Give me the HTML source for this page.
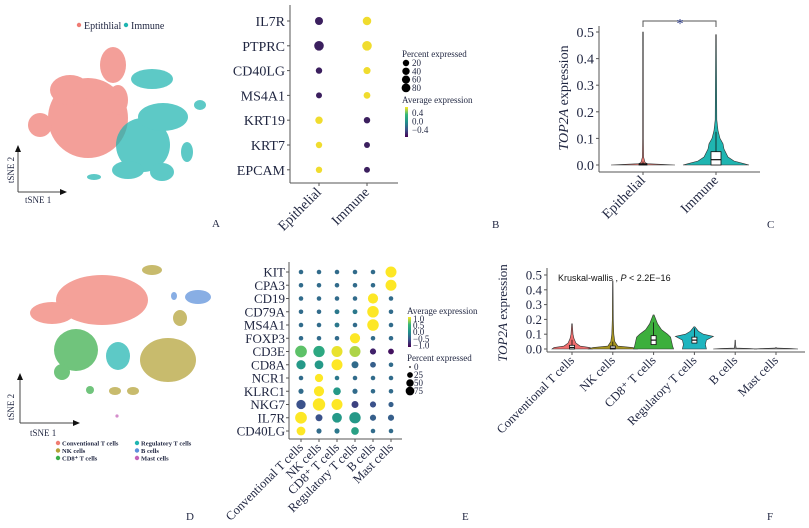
<!DOCTYPE html>
<html><head><meta charset="utf-8">
<style>
html,body{margin:0;padding:0;background:#fff;}
svg{display:block;font-family:"Liberation Serif",serif;}
.t{fill:#1f2540;}
</style></head>
<body>
<svg id="fig" width="809" height="528" viewBox="0 0 809 528">
<!-- Panel A -->
<g>
  <circle cx="79" cy="25" r="2.2" fill="#ef7b73"/>
  <text x="84" y="29" font-size="10" class="t">Eptithlial</text>
  <circle cx="126" cy="25" r="2.2" fill="#1fb5b1"/>
  <text x="131" y="29" font-size="10" class="t">Immune</text>
  <g fill="#ef7b73" opacity="0.72">
    <ellipse cx="88" cy="118" rx="40" ry="40"/>
    <ellipse cx="113" cy="65" rx="13" ry="18"/>
    <ellipse cx="40" cy="125" rx="12" ry="12"/>
    <ellipse cx="118" cy="100" rx="10" ry="15"/>
    <ellipse cx="70" cy="90" rx="20" ry="15"/>
  </g>
  <g fill="#1fb5b1" opacity="0.72">
    <ellipse cx="152" cy="79" rx="21" ry="10"/>
    <ellipse cx="143" cy="145" rx="27" ry="27"/>
    <ellipse cx="163" cy="117" rx="25" ry="14"/>
    <ellipse cx="128" cy="170" rx="16" ry="9"/>
    <ellipse cx="187" cy="152" rx="6" ry="10"/>
    <ellipse cx="200" cy="105" rx="6" ry="5"/>
    <ellipse cx="162" cy="172" rx="12" ry="9"/>
    <ellipse cx="94" cy="177" rx="7" ry="3"/>
  </g>
  <line x1="18" y1="192" x2="18" y2="150" stroke="#444" stroke-width="1"/>
  <polygon points="18,145 15,152 21,152" fill="#111"/>
  <line x1="18" y1="192" x2="62" y2="192" stroke="#444" stroke-width="1"/>
  <polygon points="67,192 60,189 60,195" fill="#111"/>
  <text x="14" y="170" font-size="9" class="t" transform="rotate(-90 14 170)" text-anchor="middle">tSNE 2</text>
  <text x="25" y="203" font-size="9" class="t">tSNE 1</text>
  <text x="212" y="227" font-size="11" class="t">A</text>
</g>

<g id="panelB"></g>
<g id="panelC"></g>

<!-- Panel D -->
<g>
  <g opacity="0.72">
    <g fill="#f07d72">
      <ellipse cx="102" cy="300" rx="46" ry="25"/>
      <ellipse cx="52" cy="313" rx="22" ry="11"/>
    </g>
    <g fill="#3aae4a">
      <ellipse cx="76" cy="350" rx="22" ry="21"/>
      <ellipse cx="62" cy="372" rx="8" ry="8"/>
      <ellipse cx="90" cy="390" rx="4" ry="4"/>
    </g>
    <ellipse cx="118" cy="356" rx="12" ry="14" fill="#1fb5b1"/>
    <g fill="#b3a135">
      <ellipse cx="168" cy="360" rx="28" ry="22"/>
      <ellipse cx="152" cy="270" rx="10" ry="5"/>
      <ellipse cx="180" cy="318" rx="7" ry="8"/>
      <ellipse cx="115" cy="391" rx="6" ry="4"/>
      <ellipse cx="133" cy="391" rx="6" ry="4"/>
    </g>
    <g fill="#5b8fdb">
      <ellipse cx="198" cy="297" rx="13" ry="7"/>
      <ellipse cx="174" cy="296" rx="3" ry="4"/>
    </g>
    <circle cx="117" cy="416" r="1.6" fill="#c462b8"/>
  </g>
  <line x1="20" y1="423" x2="20" y2="378" stroke="#444"/>
  <polygon points="20,373 17,380 23,380" fill="#111"/>
  <line x1="20" y1="423" x2="75" y2="423" stroke="#444"/>
  <polygon points="80,423 73,420 73,426" fill="#111"/>
  <text x="14" y="407" font-size="9" class="t" transform="rotate(-90 14 407)" text-anchor="middle">tSNE 2</text>
  <text x="30" y="436" font-size="9" class="t">tSNE 1</text>
  <g font-size="6.5" font-weight="bold" class="t">
    <circle cx="58" cy="443" r="2.2" fill="#f07d72"/><text x="62" y="445.5">Conventional T cells</text>
    <circle cx="58" cy="450.5" r="2.2" fill="#b3a135"/><text x="62" y="453">NK cells</text>
    <circle cx="58" cy="458" r="2.2" fill="#3aae4a"/><text x="62" y="460.5">CD8⁺ T cells</text>
    <circle cx="137" cy="443" r="2.2" fill="#1fb5b1"/><text x="141" y="445.5">Regulatory T cells</text>
    <circle cx="137" cy="450.5" r="2.2" fill="#5b8fdb"/><text x="141" y="453">B cells</text>
    <circle cx="137" cy="458" r="2.2" fill="#c462b8"/><text x="141" y="460.5">Mast cells</text>
  </g>
  <text x="186" y="520" font-size="11" class="t">D</text>
</g>

<g id="panelE"></g>
<g id="panelF"></g>
</svg>

<script>
// ---------- Panel B data ----------
const bGenes = ["IL7R","PTPRC","CD40LG","MS4A1","KRT19","KRT7","EPCAM"];
const bGroups = ["Epithelial","Immune"];
const bExpEpi = [-0.5,-0.5,-0.5,-0.5,0.5,0.5,0.5];
const bExpImm = [0.5,0.5,0.5,0.5,-0.5,-0.5,-0.5];
const bPctEpi = [45,80,20,15,35,20,20];
const bPctImm = [55,80,30,25,20,15,15];
const bLegendPct = [20,40,60,80];
const bLegendExp = ["0.4","0.0","−0.4"];

// ---------- Panel C data ----------
const cGroups = ["Epithelial","Immune"];
const cTicks = [0,0.1,0.2,0.3,0.4,0.5];
const cProfEpi = [[0,32],[0.002,20],[0.005,4],[0.01,2],[0.03,0.6],[0.1,0.4],[0.5,0.3]];
const cProfImm = [[0,33],[0.005,28],[0.015,18],[0.03,12],[0.06,8],[0.08,7],[0.1,4],[0.13,2],[0.17,0.8],[0.49,0.3]];
const cBoxEpi = [0,0.002,0.005];
const cBoxImm = [0,0.02,0.05];

// ---------- Panel E data ----------
const eGenes = ["KIT","CPA3","CD19","CD79A","MS4A1","FOXP3","CD3E","CD8A","NCR1","KLRC1","NKG7","IL7R","CD40LG"];
const eGroups = ["Conventional T cells","NK cells","CD8⁺ T cells","Regulatory T cells","B cells","Mast cells"];
const eExp = [
 [-0.3,-0.3,-0.3,-0.3,-0.3,1.0],
 [-0.3,-0.3,-0.3,-0.3,-0.3,1.0],
 [-0.3,-0.3,-0.3,-0.3,1.0,-0.3],
 [-0.3,-0.3,-0.2,-0.2,1.0,-0.3],
 [-0.3,-0.3,-0.2,-0.3,1.0,-0.3],
 [-0.3,-0.3,-0.3,1.0,-0.3,-0.3],
 [0.6,0.3,0.95,0.8,-0.8,-0.9],
 [0.1,0.1,1.0,-0.3,-0.4,-0.3],
 [-0.3,1.0,-0.2,-0.3,-0.3,-0.3],
 [-0.3,1.0,0.1,-0.3,-0.3,-0.3],
 [-0.5,1.0,1.0,-0.6,-0.5,-0.4],
 [1.0,-0.5,0.1,0.1,-0.4,-0.4],
 [1.0,-0.3,-0.2,0.2,-0.3,-0.3]];
const ePct = [
 [3,3,3,3,3,55],
 [3,3,3,3,3,55],
 [3,3,3,3,45,3],
 [3,3,4,4,62,3],
 [3,3,4,3,62,3],
 [3,3,3,45,3,3],
 [65,60,55,55,10,8],
 [35,30,55,15,8,3],
 [3,25,3,3,3,3],
 [5,45,20,5,3,3],
 [35,75,55,15,10,5],
 [65,15,40,60,10,10],
 [30,5,5,20,3,3]];
const eLegendExp = ["1.0","0.5","0.0","−0.5","−1.0"];
const eLegendPct = [0,25,50,75];

// ---------- Panel F data ----------
const fGroups = ["Conventional T cells","NK cells","CD8⁺ T cells","Regulatory T cells","B cells","Mast cells"];
const fColors = ["#f06e6e","#a8951e","#3daf3d","#1fb5bf","#888","#888"];
const fTicks = [0,0.1,0.2,0.3,0.4,0.5];
const fProfConv = [[0,20],[0.01,18],[0.02,8],[0.04,4],[0.07,2],[0.1,1],[0.17,0.3]];
const fProfNK = [[0,25],[0.01,20],[0.02,5],[0.05,2],[0.1,1],[0.2,0.5],[0.46,0.2]];
const fProfCD8 = [[0,20],[0.02,19],[0.05,18],[0.08,17],[0.1,14],[0.13,8],[0.17,4],[0.23,0.5]];
const fProfTreg = [[0,12],[0.03,11],[0.06,12],[0.085,19],[0.1,9],[0.12,4],[0.15,0.5]];
const fProfB = [[0,22],[0.003,15],[0.006,1],[0.03,0.4],[0.06,0.2]];
const fProfMast = [[0,22],[0.003,15],[0.006,1],[0.01,0.2]];
const fBoxes = [[0,0.01,0.025],[0,0.005,0.02],[0.03,0.06,0.09],[0.04,0.06,0.08],null,null];

const NS="http://www.w3.org/2000/svg";
function mk(parent,tag,attrs,txt){const e=document.createElementNS(NS,tag);for(const k in attrs)e.setAttribute(k,attrs[k]);if(txt!==undefined)e.textContent=txt;parent.appendChild(e);return e;}
const viridis=["#440154","#3b528b","#21918c","#35b779","#fde725"];
function vcol(v,lo,hi){let t=(v-lo)/(hi-lo);t=Math.max(0,Math.min(1,t));const i=Math.min(3,Math.floor(t*4));const f=t*4-i;
 const a=viridis[i],b=viridis[i+1];const p=s=>[1,3,5].map(j=>parseInt(s.substr(j,2),16));const A=p(a),B=p(b);
 return "rgb("+A.map((x,j)=>Math.round(x+(B[j]-x)*f)).join(",")+")";}

// ---------- Panel B ----------
(function(){
 const g=document.getElementById("panelB");
 const xB=i=>319+i*48, yB=i=>21+i*24.8;
 const rB=p=>1.6+Math.sqrt(p/80)*3.2;
 mk(g,"line",{x1:290,y1:5,x2:290,y2:183,stroke:"#555"});
 mk(g,"line",{x1:290,y1:183,x2:398,y2:183,stroke:"#555"});
 bGenes.forEach((gn,i)=>{
  const t=mk(g,"text",{x:285,y:yB(i)+5,"font-size":14,"text-anchor":"end",class:"t"},gn);
  
  
  mk(g,"line",{x1:287,y1:yB(i),x2:290,y2:yB(i),stroke:"#555"});
  [[bExpEpi,bPctEpi],[bExpImm,bPctImm]].forEach((arr,j)=>{
   const c=mk(g,"circle",{cx:xB(j),cy:yB(i),r:rB(arr[1][i]),fill:arr[0][i]>0?"#f0dc2e":"#3b1f5e"});
   
   
  });
 });
 bGroups.forEach((gr,j)=>{
  mk(g,"line",{x1:xB(j),y1:183,x2:xB(j),y2:186,stroke:"#555"});
  const t=mk(g,"text",{x:xB(j)+3,y:193,"font-size":14,"text-anchor":"end",class:"t",transform:"rotate(-45 "+(xB(j)+3)+" 193)"},gr);
  
  
 });
 mk(g,"text",{x:402,y:57,"font-size":9,class:"t"},"Percent expressed");
 bLegendPct.forEach((p,i)=>{mk(g,"circle",{cx:406,cy:63+i*8.3,r:rB(p)*0.75+0.8,fill:"#000"});mk(g,"text",{x:412,y:66+i*8.3,"font-size":9,class:"t"},p);});
 mk(g,"text",{x:402,y:103,"font-size":9,class:"t"},"Average expression");
 const lg=mk(g,"defs",{});const gr=mk(lg,"linearGradient",{id:"vb",x1:0,y1:1,x2:0,y2:0});
 viridis.forEach((c,i)=>mk(gr,"stop",{offset:i/4,"stop-color":c}));
 mk(g,"rect",{x:405,y:107,width:3,height:30,fill:"url(#vb)"});
 bLegendExp.forEach((l,i)=>mk(g,"text",{x:412,y:116+i*8.5,"font-size":9,class:"t"},l));
 mk(g,"text",{x:492,y:228,"font-size":11,class:"t"},"B");
})();

function violin(g,cx,prof,yS,scale,fill){
 let d="M"+(cx-prof[0][1]*scale)+","+yS(prof[0][0]);
 prof.forEach(p=>{d+=" L"+(cx-p[1]*scale)+","+yS(p[0]);});
 for(let i=prof.length-1;i>=0;i--)d+=" L"+(cx+prof[i][1]*scale)+","+yS(prof[i][0]);
 d+=" Z";
 return mk(g,"path",{d:d,fill:fill,stroke:"#333","stroke-width":0.6});
}
function box(g,cx,b,yS,w){
 mk(g,"line",{x1:cx,y1:yS(b[0]),x2:cx,y2:yS(b[2]+(b[2]-b[0])*1.5),stroke:"#111","stroke-width":0.8});
 mk(g,"rect",{x:cx-w/2,y:yS(b[2]),width:w,height:Math.max(1,yS(b[0])-yS(b[2])),fill:"#fff",stroke:"#111","stroke-width":0.8});
 mk(g,"line",{x1:cx-w/2,y1:yS(b[1]),x2:cx+w/2,y2:yS(b[1]),stroke:"#111","stroke-width":1.2});
}

// ---------- Panel C ----------
(function(){
 const g=document.getElementById("panelC");
 const yS=v=>165-v*266;
 const xs=[643,716];
 mk(g,"line",{x1:599,y1:26,x2:599,y2:172,stroke:"#555"});
 mk(g,"line",{x1:599,y1:172,x2:760,y2:172,stroke:"#555"});
 cTicks.forEach(t=>{mk(g,"line",{x1:596,y1:yS(t),x2:599,y2:yS(t),stroke:"#555"});
  mk(g,"text",{x:594,y:yS(t)+5,"font-size":14,"text-anchor":"end",class:"t"},t.toFixed(1));});
 const v1=violin(g,xs[0],cProfEpi,yS,1,"#ef7b73");
 
 
 box(g,xs[0],cBoxEpi,yS,8);
 const v2=violin(g,xs[1],cProfImm,yS,1,"#1fb5b1");
 
 
 box(g,xs[1],cBoxImm,yS,10);
 cGroups.forEach((gr,j)=>{
  mk(g,"line",{x1:xs[j],y1:172,x2:xs[j],y2:175,stroke:"#555"});
  mk(g,"text",{x:xs[j]+3,y:181,"font-size":14,"text-anchor":"end",class:"t",transform:"rotate(-45 "+(xs[j]+3)+" 181)"},gr);
 });
 mk(g,"path",{d:"M643,27 L643,21 L716,21 L716,27",fill:"none",stroke:"#555"});
 mk(g,"text",{x:680,y:28,"font-size":14,"text-anchor":"middle",fill:"#2a3a8a"},"*");
 mk(g,"text",{x:0,y:0,"font-size":14,class:"t",transform:"translate(568 98) rotate(-90)","text-anchor":"middle"}).innerHTML='<tspan font-style="italic">TOP2A</tspan> expression';
 mk(g,"text",{x:767,y:228,"font-size":11,class:"t"},"C");
})();

// ---------- Panel E ----------
(function(){
 const g=document.getElementById("panelE");
 const xE=j=>301+j*18, yE=i=>272+i*13.25;
 const rE=p=>1.3+Math.sqrt(p/75)*4.9;
 mk(g,"line",{x1:289,y1:262,x2:289,y2:439,stroke:"#555"});
 mk(g,"line",{x1:289,y1:439,x2:402,y2:439,stroke:"#555"});
 eGenes.forEach((gn,i)=>{
  const t=mk(g,"text",{x:285,y:yE(i)+4.5,"font-size":13,"text-anchor":"end",class:"t"},gn);
  
  
  mk(g,"line",{x1:286,y1:yE(i),x2:289,y2:yE(i),stroke:"#555"});
  eGroups.forEach((gr,j)=>{
   const c=mk(g,"circle",{cx:xE(j),cy:yE(i),r:rE(ePct[i][j]),fill:vcol(eExp[i][j],-1,1)});
   
   
  });
 });
 eGroups.forEach((gr,j)=>{
  mk(g,"line",{x1:xE(j),y1:439,x2:xE(j),y2:442,stroke:"#555"});
  mk(g,"text",{x:xE(j)+3,y:448,"font-size":12.5,"text-anchor":"end",class:"t",transform:"rotate(-45 "+(xE(j)+3)+" 448)"},gr);
 });
 mk(g,"text",{x:407,y:314,"font-size":9,class:"t"},"Average expression");
 const lg=mk(g,"defs",{});const gr=mk(lg,"linearGradient",{id:"ve",x1:0,y1:1,x2:0,y2:0});
 viridis.forEach((c,i)=>mk(gr,"stop",{offset:i/4,"stop-color":c}));
 mk(g,"rect",{x:408,y:317,width:3,height:30,fill:"url(#ve)"});
 eLegendExp.forEach((l,i)=>mk(g,"text",{x:413,y:322+i*6.6,"font-size":9,class:"t"},l));
 mk(g,"text",{x:407,y:361,"font-size":9,class:"t"},"Percent expressed");
 eLegendPct.forEach((p,i)=>{mk(g,"circle",{cx:410,cy:367+i*8,r:rE(p)*0.7,fill:"#000"});mk(g,"text",{x:414,y:370+i*8,"font-size":9,class:"t"},p);});
 mk(g,"text",{x:462,y:520,"font-size":11,class:"t"},"E");
})();

// ---------- Panel F ----------
(function(){
 const g=document.getElementById("panelF");
 const yS=v=>349-v*148;
 const xF=j=>572+j*40.8;
 const profs=[fProfConv,fProfNK,fProfCD8,fProfTreg,fProfB,fProfMast];
 mk(g,"line",{x1:547,y1:268,x2:547,y2:352,stroke:"#555"});
 mk(g,"line",{x1:547,y1:352,x2:805,y2:352,stroke:"#555"});
 fTicks.forEach(t=>{mk(g,"line",{x1:544,y1:yS(t),x2:547,y2:yS(t),stroke:"#555"});
  mk(g,"text",{x:542,y:yS(t)+4.5,"font-size":13,"text-anchor":"end",class:"t"},t.toFixed(1));});
 profs.forEach((p,j)=>{
  const v=violin(g,xF(j),p,yS,1,fColors[j]);
  
  
  if(fBoxes[j])box(g,xF(j),fBoxes[j],yS,5);
 });
 fGroups.forEach((gr,j)=>{
  mk(g,"line",{x1:xF(j),y1:352,x2:xF(j),y2:355,stroke:"#555"});
  mk(g,"text",{x:xF(j)+3,y:361,"font-size":12.5,"text-anchor":"end",class:"t",transform:"rotate(-45 "+(xF(j)+3)+" 361)"},gr);
 });
 mk(g,"text",{x:558,y:281,"font-size":9,"font-family":"Liberation Sans, sans-serif",fill:"#111"}).innerHTML='Kruskal-wallis , <tspan font-style="italic">P</tspan> &lt; 2.2E−16';
 mk(g,"text",{x:0,y:0,"font-size":13,class:"t",transform:"translate(507 313) rotate(-90)","text-anchor":"middle"}).innerHTML='<tspan font-style="italic">TOP2A</tspan> expression';
 mk(g,"text",{x:767,y:520,"font-size":11,class:"t"},"F");
})();
</script>
</body></html>
